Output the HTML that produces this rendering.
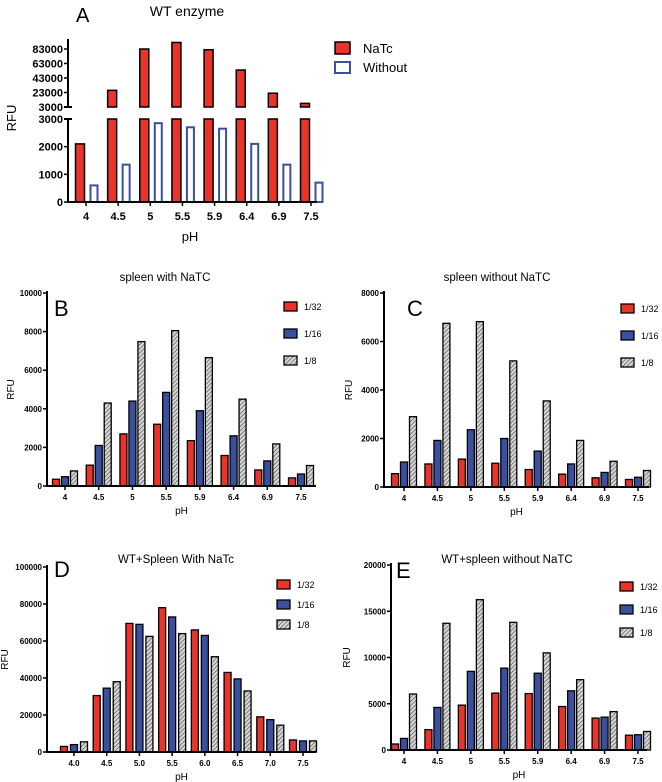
<!DOCTYPE html>
<html><head><meta charset="utf-8"><style>
body{margin:0;background:#fff;}
svg{display:block;font-family:"Liberation Sans",Arial,sans-serif;}
</style></head><body>
<svg id="fig" width="662" height="782" viewBox="0 0 662 782" xmlns="http://www.w3.org/2000/svg">
<defs>
<pattern id="hatch" patternUnits="userSpaceOnUse" width="3" height="3" patternTransform="rotate(45)">
<rect width="3" height="3" fill="#d8d8d8"/><line x1="0" y1="0" x2="0" y2="3" stroke="#555" stroke-width="1.4"/>
</pattern>
</defs>
</svg>
<script>
const NS='http://www.w3.org/2000/svg';
const svg=document.getElementById('fig');
const phCats=['4','4.5','5','5.5','5.9','6.4','6.9','7.5'];
const phCatsD=['4.0','4.5','5.0','5.5','6.0','6.5','7.0','7.5'];
const dilutions=['1/32','1/16','1/8'];
// Panel A
const aNaTc=[2100,26000,83000,92000,82000,54000,22000,8000];
const aWithout=[600,1350,2850,2700,2650,2100,1350,700];
const aUpperTicks=[3000,23000,43000,63000,83000];
const aLowerTicks=[0,1000,2000,3000];
// Panel B
const bRed=[350,1080,2700,3200,2350,1580,830,420];
const bBlue=[480,2100,4400,4850,3900,2600,1300,620];
const bGray=[780,4300,7480,8050,6650,4500,2180,1060];
const bTicks=[0,2000,4000,6000,8000,10000];
// Panel C
const cRed=[550,950,1150,980,720,530,380,310];
const cBlue=[1030,1920,2360,2000,1480,950,600,400];
const cGray=[2900,6750,6820,5200,3550,1920,1060,680];
const cTicks=[0,2000,4000,6000,8000];
// Panel D
const dRed=[3000,30500,69500,78000,66000,43000,19000,6500];
const dBlue=[4000,34500,69000,73000,63000,39500,17500,6000];
const dGray=[5500,38000,62500,64000,51500,33000,14500,6000];
const dTicks=[0,20000,40000,60000,80000,100000];
// Panel E
const eRed=[650,2200,4850,6150,6100,4700,3450,1600];
const eBlue=[1250,4600,8500,8850,8300,6400,3550,1650];
const eGray=[6050,13700,16250,13800,10500,7600,4150,2000];
const eTicks=[0,5000,10000,15000,20000];

function el(tag,attrs,parent,text){const e=document.createElementNS(NS,tag);for(const k in attrs)e.setAttribute(k,attrs[k]);if(text!==undefined)e.textContent=text;(parent||svg).appendChild(e);return e;}
const fills=['#e8342b','#3a4fa0','url(#hatch)'];

function panel(o){
  const g=el('g',{});
  
  
  const y=v=>o.y0-(v/o.max)*(o.y0-o.yTop);
  const x=i=>o.xFirst+i*(o.xLast-o.xFirst)/(o.cats.length-1);
  o.series.forEach((s,si)=>{
    s.forEach((v,i)=>{
      const cx=x(i)+(si-1)*o.off;
      const r=el('rect',{x:cx-o.bw/2,y:y(v),width:o.bw,height:o.y0-y(v),fill:fills[si],stroke:'#000','stroke-width':1.3},g);
      
      
    });
  });
  const ax=el('path',{d:`M${o.ax},${o.yTop-2}V${o.y0}H${o.xEnd}`,fill:'none',stroke:'#000','stroke-width':2},g);
  
  
  o.ticks.forEach(t=>{
    el('line',{x1:o.ax-4,x2:o.ax,y1:y(t),y2:y(t),stroke:'#000','stroke-width':1.5},g);
    const tl=el('text',{x:o.ax-5,y:y(t)+3,'text-anchor':'end','font-size':8,'font-weight':'bold'},g,t);
    
    
  });
  o.cats.forEach((c,i)=>{
    el('line',{x1:x(i),x2:x(i),y1:o.y0,y2:o.y0+4,stroke:'#000','stroke-width':1.5},g);
    const tl=el('text',{x:x(i),y:o.y0+14,'text-anchor':'middle','font-size':8,'font-weight':'bold'},g,c);
    
    
  });
  const xt=el('text',{x:(o.ax+o.xEnd)/2,y:o.y0+28,'text-anchor':'middle','font-size':10},g,'pH');
  
  
  const yt=el('text',{x:o.rfuX,y:(o.yTop+o.y0)/2,'text-anchor':'middle','font-size':10,transform:`rotate(-90 ${o.rfuX} ${(o.yTop+o.y0)/2})`},g,'RFU');
  
  
  const tt=el('text',{x:o.titleX,y:o.titleY,'text-anchor':'middle','font-size':11.5},g,o.title);
  
  
  const lt=el('text',{x:o.letterX,y:o.letterY,'font-size':22},g,o.letter);
  
  
  dilutions.forEach((d,i)=>{
    const ly=o.legY+i*o.legStep;
    const lb=el('rect',{x:o.legX,y:ly,width:13,height:9,fill:fills[i],stroke:'#000','stroke-width':1.3},g);
    
    
    const ltx=el('text',{x:o.legX+20,y:ly+8,'font-size':9},g,d);
    
    
  });
}
panel({name:'panel-b',cats:phCats,series:[bRed,bBlue,bGray],ticks:bTicks,max:10000,ax:47,xEnd:316,yTop:293,y0:486,xFirst:65,xLast:301,bw:7,off:9,rfuX:14,title:'spleen with NaTC',titleX:165,titleY:281,letter:'B',letterX:54,letterY:316,legX:284,legY:302,legStep:27});
panel({name:'panel-c',cats:phCats,series:[cRed,cBlue,cGray],ticks:cTicks,max:8000,ax:384,xEnd:649,yTop:293,y0:487,xFirst:404,xLast:638,bw:7,off:9,rfuX:352,title:'spleen without NaTC',titleX:497,titleY:281,letter:'C',letterX:407,letterY:316,legX:621,legY:304,legStep:27});
panel({name:'panel-d',cats:phCatsD,series:[dRed,dBlue,dGray],ticks:dTicks,max:100000,ax:47,xEnd:316,yTop:567,y0:752,xFirst:74,xLast:303,bw:7,off:10,rfuX:8,title:'WT+Spleen With NaTc',titleX:176,titleY:563,letter:'D',letterX:54,letterY:577,legX:277,legY:580,legStep:20});
panel({name:'panel-e',cats:phCats,series:[eRed,eBlue,eGray],ticks:eTicks,max:20000,ax:391,xEnd:647,yTop:565,y0:750,xFirst:404,xLast:638,bw:7,off:9,rfuX:350,title:'WT+spleen without NaTC',titleX:507,titleY:563,letter:'E',letterX:396,letterY:578,legX:620,legY:582,legStep:23});

// Panel A (broken axis)
(function(){
  const g=el('g',{});
  
  
  const ax=68,xEnd=317,lowY0=202,lowTop=119,upY0=107,upTop=49;
  const yLow=v=>lowY0-v/3000*(lowY0-lowTop);
  const yUp=v=>upY0-(v-3000)/80000*(upY0-upTop);
  const x=i=>86+i*(311-86)/7;
  const bw=9;
  aNaTc.forEach((v,i)=>{
    const cx=x(i)-6;
    let r;
    if(v<=3000){r=el('rect',{x:cx-bw/2,y:yLow(v),width:bw,height:lowY0-yLow(v),fill:'#e8342b',stroke:'#000','stroke-width':1.5},g);}
    else{
      r=el('rect',{x:cx-bw/2,y:lowTop,width:bw,height:lowY0-lowTop,fill:'#e8342b',stroke:'#000','stroke-width':1.5},g);
      const r2=el('rect',{x:cx-bw/2,y:yUp(v),width:bw,height:upY0-yUp(v),fill:'#e8342b',stroke:'#000','stroke-width':1.5},g);
      
      
    }
    
    
  });
  aWithout.forEach((v,i)=>{
    const cx=x(i)+8;
    const r=el('rect',{x:cx-bw/2+1,y:yLow(v),width:bw-2,height:lowY0-yLow(v),fill:'#fff',stroke:'#3a4fa0','stroke-width':2},g);
    
    
  });
  const a1=el('path',{d:`M${ax},${upTop-10}V${upY0}M${ax},${lowTop}V${lowY0}H${xEnd}`,fill:'none',stroke:'#000','stroke-width':2},g);
  
  
  el('line',{x1:ax-4,x2:ax+4,y1:upY0,y2:upY0,stroke:'#000','stroke-width':2},g);
  el('line',{x1:ax-4,x2:ax+4,y1:lowTop,y2:lowTop,stroke:'#000','stroke-width':2},g);
  aUpperTicks.forEach(t=>{
    el('line',{x1:ax-4,x2:ax,y1:yUp(t),y2:yUp(t),stroke:'#000','stroke-width':1.5},g);
    const tl=el('text',{x:ax-5,y:yUp(t)+4,'text-anchor':'end','font-size':11,'font-weight':'bold'},g,t);
    
    
  });
  aLowerTicks.forEach(t=>{
    el('line',{x1:ax-4,x2:ax,y1:yLow(t),y2:yLow(t),stroke:'#000','stroke-width':1.5},g);
    const tl=el('text',{x:ax-5,y:yLow(t)+4,'text-anchor':'end','font-size':11,'font-weight':'bold'},g,t);
    
    
  });
  phCats.forEach((c,i)=>{
    el('line',{x1:x(i),x2:x(i),y1:lowY0,y2:lowY0+4,stroke:'#000','stroke-width':1.5},g);
    const tl=el('text',{x:x(i),y:lowY0+18,'text-anchor':'middle','font-size':11,'font-weight':'bold'},g,c);
    
    
  });
  const xt=el('text',{x:190,y:241,'text-anchor':'middle','font-size':13},g,'pH');
  
  
  const yt=el('text',{x:16,y:118,'text-anchor':'middle','font-size':13,transform:'rotate(-90 16 118)'},g,'RFU');
  
  
  const tt=el('text',{x:187,y:16,'text-anchor':'middle','font-size':14},g,'WT enzyme');
  
  
  const lt=el('text',{x:76,y:22,'font-size':20},g,'A');
  
  
  const l1=el('rect',{x:335,y:42,width:15,height:12,fill:'#e8342b',stroke:'#000','stroke-width':1.5},g);
  
  
  const t1=el('text',{x:363,y:53,'font-size':13},g,'NaTc');
  
  
  const l2=el('rect',{x:335,y:62,width:15,height:11,fill:'#fff',stroke:'#3a4fa0','stroke-width':2},g);
  
  
  const t2=el('text',{x:363,y:72,'font-size':13},g,'Without');
  
  
})();
</script>
</body></html>
